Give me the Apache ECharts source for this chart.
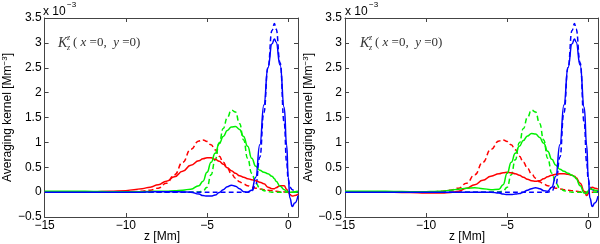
<!DOCTYPE html>
<html><head><meta charset="utf-8">
<script src="https://cdn.jsdelivr.net/npm/echarts@6/dist/echarts.min.js"></script>
<style>html,body{margin:0;padding:0;background:#fff}#c{width:600px;height:244px}</style>
</head><body><div id="c"></div>
<script>
// depth grid z [Mm]
const z = [-15,-14,-13,-12,-11,-10,-9.5,-9,-8.5,-8,-7.5,-7,-6.5,-6,-5.5,-5.25,-5,-4.75,-4.5,-4.25,-4,-3.75,-3.5,-3.25,-3,-2.75,-2.5,-2.25,-2,-1.75,-1.5,-1.25,-1,-0.85,-0.75,-0.5,-0.25,-0.1,0,0.1,0.25,0.4,0.6];

// target kernels (dashed) - same in both panels
const redDashed   = [0,0,0,0,0,0.005,0.01,0.02,0.04,0.08,0.18,0.35,0.6,0.86,1.03,1.05,1.02,0.95,0.85,0.72,0.6,0.48,0.37,0.28,0.21,0.16,0.13,0.1,0.08,0.065,0.05,0.04,0.03,0.025,0.02,0.01,0.005,0,0,0,0,0,0];
const greenDashed = [0,0,0,0,0,0,0,0,0,0,0,0,0,0,0.005,0.02,0.1,0.35,0.65,0.99,1.28,1.5,1.65,1.61,1.38,1.05,0.68,0.38,0.18,0.08,0.03,0.01,0,0,0,0,0,0,0,0,0,0,0];
const blueDashed  = [0,0,0,0,0,0,0,0,0,0,0,0,0,0,0,0,0,0,0,0,0,0,0,0,0,0,0,0.02,0.15,0.7,1.6,2.5,3.25,3.39,3.28,2.6,1.4,0.6,0.25,0.1,0.05,0.02,0];

// averaging kernels, left panel (solid)
const redLeft   = [0,0,0.005,0.01,0.02,0.03,0.05,0.07,0.1,0.15,0.22,0.31,0.42,0.54,0.63,0.67,0.69,0.69,0.66,0.62,0.56,0.49,0.43,0.38,0.33,0.3,0.27,0.25,0.23,0.2,0.17,0.1,0.07,0.07,0.09,0.13,0.13,0.06,0,-0.05,-0.08,-0.07,-0.04];
const greenLeft = [0.02,0.02,0.02,0.015,0.01,0.01,0.01,0.01,0.015,0.02,0.02,0.03,0.04,0.06,0.13,0.22,0.4,0.6,0.78,0.97,1.12,1.24,1.31,1.32,1.26,1.12,0.92,0.68,0.52,0.44,0.4,0.37,0.32,0.27,0.22,0.12,0.05,0.02,0.01,0,0,0.01,0.02];
const blueLeft  = [0,0,0,0,0,0,0,0,0.005,0.01,0.01,0.01,0.005,0,-0.04,-0.07,-0.08,-0.08,-0.06,-0.01,0.05,0.11,0.14,0.12,0.07,0.01,0,0.04,0.3,0.95,1.75,2.5,2.98,3.08,3.02,2.55,1.7,0.95,0.3,-0.12,-0.29,-0.22,-0.07];

// averaging kernels, right panel (solid)
const redRight   = [0,0,0,-0.005,-0.01,-0.02,-0.02,-0.02,-0.01,0.02,0.08,0.15,0.24,0.32,0.37,0.39,0.4,0.39,0.37,0.34,0.3,0.26,0.23,0.22,0.23,0.27,0.31,0.34,0.36,0.37,0.37,0.36,0.34,0.32,0.29,0.18,0.02,-0.07,-0.03,0.06,0.1,0.08,0.06];
const greenRight = [0.02,0.02,0.02,0.015,0.01,0.01,0.015,0.02,0.04,0.06,0.08,0.09,0.07,0.05,0.06,0.15,0.38,0.6,0.78,0.92,1.04,1.13,1.18,1.17,1.1,0.98,0.82,0.66,0.54,0.46,0.42,0.38,0.34,0.31,0.27,0.13,-0.02,-0.03,0.03,0.07,0.06,0.04,0.03];
const blueRight  = [0,0,0,0,0,0,0,0,0,0,0,0,0,0,-0.02,-0.04,-0.05,-0.05,-0.04,-0.03,0,0.04,0.07,0.09,0.07,0.03,0.02,0.1,0.32,0.95,1.75,2.5,2.98,3.08,3.02,2.55,1.7,0.95,0.3,-0.12,-0.29,-0.22,-0.08];

const xTicks = [-15,-10,-5,0];
const xMin = -15, xMax = 0.6, yMin = -0.5, yMax = 3.5;

const FONT = 'Liberation Sans';
const SERIF = 'Liberation Serif';
const fmtNum = v => String(v).replace('-', '\u2212');

const chart = echarts.init(document.getElementById('c'), null, {renderer:'canvas'});

const grids = [
  {left:43, top:18, width:255, height:199},
  {left:345, top:18, width:253, height:199}
];

function xAxes(gi){
  const base = {type:'value', gridIndex:gi, min:xMin, max:xMax, interval:5,
    axisLine:{show:true, onZero:false, lineStyle:{color:'#444', width:1}},
    axisTick:{show:true, inside:true, length:4, lineStyle:{color:'#444'}},
    splitLine:{show:false}};
  return [
    Object.assign({}, base, {position:'bottom',
      axisLabel:{show:true, margin:3, color:'#000', fontSize:12, fontFamily:FONT,
        showMaxLabel:false,
        formatter: v => xTicks.includes(v) ? fmtNum(v) : ''}}),
    Object.assign({}, base, {position:'top', axisLabel:{show:false}})
  ];
}
function yAxes(gi){
  const base = {type:'value', gridIndex:gi, min:yMin, max:yMax, interval:0.5,
    axisLine:{show:true, onZero:false, lineStyle:{color:'#444', width:1}},
    axisTick:{show:true, inside:true, length:4, lineStyle:{color:'#444'}},
    splitLine:{show:false}};
  return [
    Object.assign({}, base, {position:'left',
      axisLabel:{show:true, margin:3, color:'#000', fontSize:12, fontFamily:FONT, formatter: fmtNum},
      name:'{a|Averaging kernel [Mm}{s|\u22123}{a|]}', nameLocation:'middle', nameRotate:90, nameGap:22,
      nameTextStyle:{rich:{a:{fontSize:12, fontFamily:FONT, color:'#000', lineHeight:14},
                           s:{fontSize:8, fontFamily:FONT, color:'#000', verticalAlign:'top', lineHeight:8}}}}),
    Object.assign({}, base, {position:'right', axisLabel:{show:false}})
  ];
}

function line(name, arr, color, dashed, gi){
  return {name, type:'line', xAxisIndex:gi*2, yAxisIndex:gi*2,
    data: z.map((x,i)=>[x, arr[i]]), showSymbol:false, symbol:'none',
    smooth:0.5, smoothMonotone:'x', animation:false, silent:true,
    lineStyle:{color, width:1.5, type: dashed ? [5,3] : 'solid'}};
}

const series = [
  line('rd0', redDashed, '#ff0000', true, 0),
  line('gd0', greenDashed, '#00f000', true, 0),
  line('bd0', blueDashed, '#0000ff', true, 0),
  line('r0', redLeft, '#ff0000', false, 0),
  line('g0', greenLeft, '#00f000', false, 0),
  line('b0', blueLeft, '#0000ff', false, 0),
  line('rd1', redDashed, '#ff0000', true, 1),
  line('gd1', greenDashed, '#00f000', true, 1),
  line('bd1', blueDashed, '#0000ff', true, 1),
  line('r1', redRight, '#ff0000', false, 1),
  line('g1', greenRight, '#00f000', false, 1),
  line('b1', blueRight, '#0000ff', false, 1)
];

function txt(x, y, text, size, opts){
  return {type:'text', x, y, silent:true, style:Object.assign({text, fill:'#000', fontSize:size, fontFamily:FONT,
    align:'left', verticalAlign:'middle', textAlign:'left', textVerticalAlign:'middle'}, opts||{})};
}
function annot(dx){
  return [
    txt(43+dx, 12, 'x 10', 12),
    txt(67+dx, 5, '\u22123', 8),
    txt(58+dx, 43, 'K', 14, {fontFamily:SERIF, fontStyle:'italic', fill:'#333'}),
    txt(67+dx, 38, 'z', 8, {fontFamily:SERIF, fontStyle:'italic', fill:'#333'}),
    txt(67+dx, 48, 'z', 8, {fontFamily:SERIF, fontStyle:'italic', fill:'#333'}),
    {type:'text', x:73+dx, y:43, silent:true, style:{
      text:'{n|(}{i| x}{n| =0,  }{i|y}{n| =0)}',
      align:'left', verticalAlign:'middle', textAlign:'left', textVerticalAlign:'middle',
      rich:{n:{fontSize:13, fontFamily:SERIF, fill:'#333', color:'#333'},
            i:{fontSize:13, fontFamily:SERIF, fontStyle:'italic', fill:'#333', color:'#333'}}}}
  ];
}

chart.setOption({
  backgroundColor:'#fff',
  animation:false,
  grid: grids,
  xAxis: xAxes(0).concat(xAxes(1)),
  yAxis: yAxes(0).concat(yAxes(1)),
  series,
  graphic: annot(0).concat(annot(302)).concat([
    txt(162, 237, 'z [Mm]', 12, {align:'center', textAlign:'center'}),
    txt(467, 237, 'z [Mm]', 12, {align:'center', textAlign:'center'})
  ])
});
</script>
</body></html>
